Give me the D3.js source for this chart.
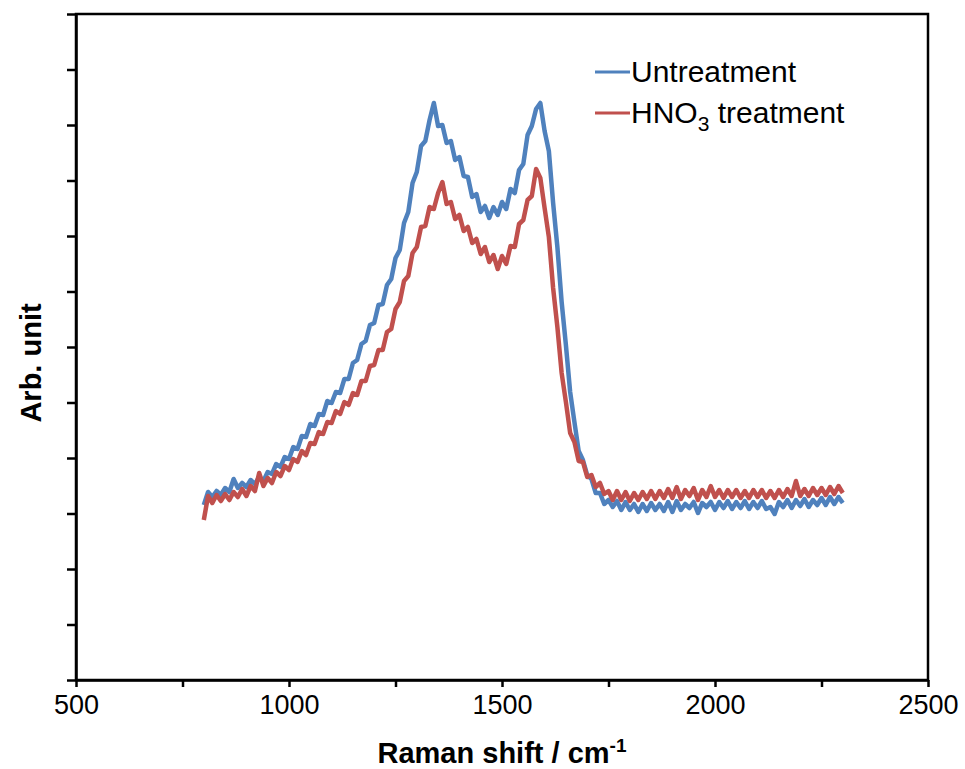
<!DOCTYPE html>
<html>
<head>
<meta charset="utf-8">
<script src="https://cdn.jsdelivr.net/npm/d3@7"></script>
<style>
  body { margin: 0; background: #fff; }
  text { font-family: "Liberation Sans", Arial, sans-serif; }
</style>
</head>
<body>
<div id="chart-area"></div>
<script>
    // Raman shift grid (cm-1), one reading every 10 cm-1
    var shifts = d3.range(800, 2301, 10);

    // intensities (arb. unit)
    var untreatment = [
      175, 188, 183, 189, 185, 192, 188, 201, 192, 197,
      193, 200, 196, 203, 199, 208, 206, 216, 213, 223,
      221, 233, 231, 244, 243, 256, 254, 266, 265, 279,
      277, 288, 287, 301, 301, 317, 320, 336, 339, 355,
      357, 375, 376, 395, 401, 422, 430, 457, 468, 497,
      508, 534, 539, 560, 577, 554, 555, 537, 539, 520,
      523, 504, 503, 483, 486, 468, 474, 462, 473, 465,
      478, 471, 491, 487, 510, 516, 545, 554, 571, 577,
      549, 529, 477, 433, 378, 335, 288, 258, 229, 220,
      205, 201, 187, 187, 176, 180, 173, 179, 170, 178,
      170, 176, 168, 176, 169, 177, 170, 176, 169, 178,
      168, 179, 170, 176, 172, 178, 167, 177, 173, 178,
      170, 178, 172, 179, 171, 178, 172, 179, 171, 178,
      172, 179, 171, 173, 166, 178, 173, 180, 172, 180,
      174, 181, 173, 180, 175, 182, 175, 183, 176, 183,
      177
    ];

    var hno3 = [
      160, 184, 177, 185, 179, 186, 180, 188, 183, 191,
      184, 194, 189, 207, 194, 202, 197, 208, 204, 214,
      210, 221, 218, 229, 225, 237, 236, 248, 246, 258,
      257, 269, 266, 278, 275, 287, 285, 299, 299, 314,
      315, 330, 330, 348, 351, 371, 378, 399, 404, 427,
      433, 453, 454, 473, 471, 487, 498, 476, 478, 461,
      465, 449, 453, 437, 441, 426, 433, 418, 425, 411,
      424, 416, 434, 433, 456, 460, 480, 484, 511, 502,
      472, 443, 392, 353, 307, 278, 247, 238, 219, 218,
      203, 205, 193, 197, 186, 189, 180, 189, 180, 188,
      179, 187, 180, 188, 181, 189, 181, 189, 182, 191,
      182, 193, 181, 190, 184, 192, 180, 190, 183, 194,
      183, 190, 182, 190, 183, 190, 182, 189, 182, 190,
      183, 190, 182, 189, 182, 190, 183, 191, 184, 199,
      184, 191, 184, 192, 185, 192, 185, 193, 186, 194,
      187
    ];

    var seriesNames = ['Untreatment', 'HNO3 treatment'];
    var seriesColors = ['#4F81BD', '#C0504D'];
    var xTicks = [500, 750, 1000, 1250, 1500, 1750, 2000, 2250, 2500];

    var margin = { left: 76, right: 37, top: 14, bottom: 89 };
    var width = 965 - margin.left - margin.right;
    var height = 769 - margin.top - margin.bottom;

    var svg = d3.select('#chart-area')
        .append('svg')
        .attr('width', 965)
        .attr('height', 769);

    const g = svg.append('g').attr('transform', `translate(${margin.left},${margin.top})`);

    var xScale = d3.scaleLinear()
        .domain([500, 2500])
        .range([0, width]);

    var yScale = d3.scaleLinear()
        .domain([0, 666])
        .range([height, 0]);

    var line = d3.line()
        .x((d) => xScale(d[0]))
        .y((d) => yScale(d[1]));

    [untreatment, hno3].forEach((vals, i) => {
      g.append('path')
        .datum(shifts.map((s, j) => [s, vals[j]]))
        .attr('fill', 'none')
        .attr('stroke', seriesColors[i])
        .attr('stroke-width', 4.5)
        .attr('stroke-linejoin', 'round')
        .attr('d', line);
    });

    // box round the plot
    g.append('rect')
        .attr('width', width)
        .attr('height', height)
        .attr('fill', 'none')
        .attr('stroke', '#000')
        .attr('stroke-width', 2.5);

    var xAxisCall = d3.axisBottom(xScale)
        .tickValues(xTicks)
        .tickSize(7)
        .tickSizeOuter(0)
        .tickFormat((d) => d % 500 === 0 ? d : '');

    var xAxis = g.append('g')
        .attr('transform', `translate(0, ${height})`)
        .call(xAxisCall);
    xAxis.select('.domain').attr('stroke-width', 2.5);
    xAxis.selectAll('.tick line').attr('stroke-width', 2.5);
    xAxis.selectAll('.tick text')
        .attr('y', 15)
        .attr('font-size', '27px')
        .attr('font-family', '"Liberation Sans", Arial, sans-serif')
        .attr('fill', '#000');

    var yAxisCall = d3.axisLeft(yScale)
        .tickValues(d3.range(0, 667, 55.5))
        .tickSize(9)
        .tickSizeOuter(0)
        .tickFormat('');

    var yAxis = g.append('g').call(yAxisCall);
    yAxis.select('.domain').attr('stroke-width', 2.5);
    yAxis.selectAll('.tick line').attr('stroke-width', 2.5);

    // axis titles
    var xTitle = g.append('text')
        .attr('x', width / 2)
        .attr('y', height + 83)
        .attr('text-anchor', 'middle')
        .attr('font-size', '29px')
        .attr('font-weight', 'bold');
    xTitle.append('tspan').text('Raman shift / cm');
    xTitle.append('tspan').attr('dy', -11).attr('font-size', '19px').text('-1');

    g.append('text')
        .attr('transform', 'rotate(-90)')
        .attr('x', -349)
        .attr('y', -35)
        .attr('text-anchor', 'middle')
        .attr('font-size', '29px')
        .attr('font-weight', 'bold')
        .text('Arb. unit');

    // legend
    const legend = svg.append('g').attr('transform', 'translate(595, 72)');

    seriesNames.forEach((name, i) => {
      const row = legend.append('g').attr('transform', `translate(0, ${i * 41})`);
      row.append('line')
        .attr('x1', 0).attr('x2', 35)
        .attr('stroke', seriesColors[i])
        .attr('stroke-width', 3);
      const label = row.append('text')
        .attr('x', 36)
        .attr('y', 10)
        .attr('font-size', '30px');
      if (name === 'HNO3 treatment') {
        label.append('tspan').text('HNO');
        label.append('tspan').attr('dy', 8).attr('font-size', '21px').text('3');
        label.append('tspan').attr('dy', -8).text(' treatment');
      } else {
        label.text(name);
      }
    });
</script>
</body>
</html>
